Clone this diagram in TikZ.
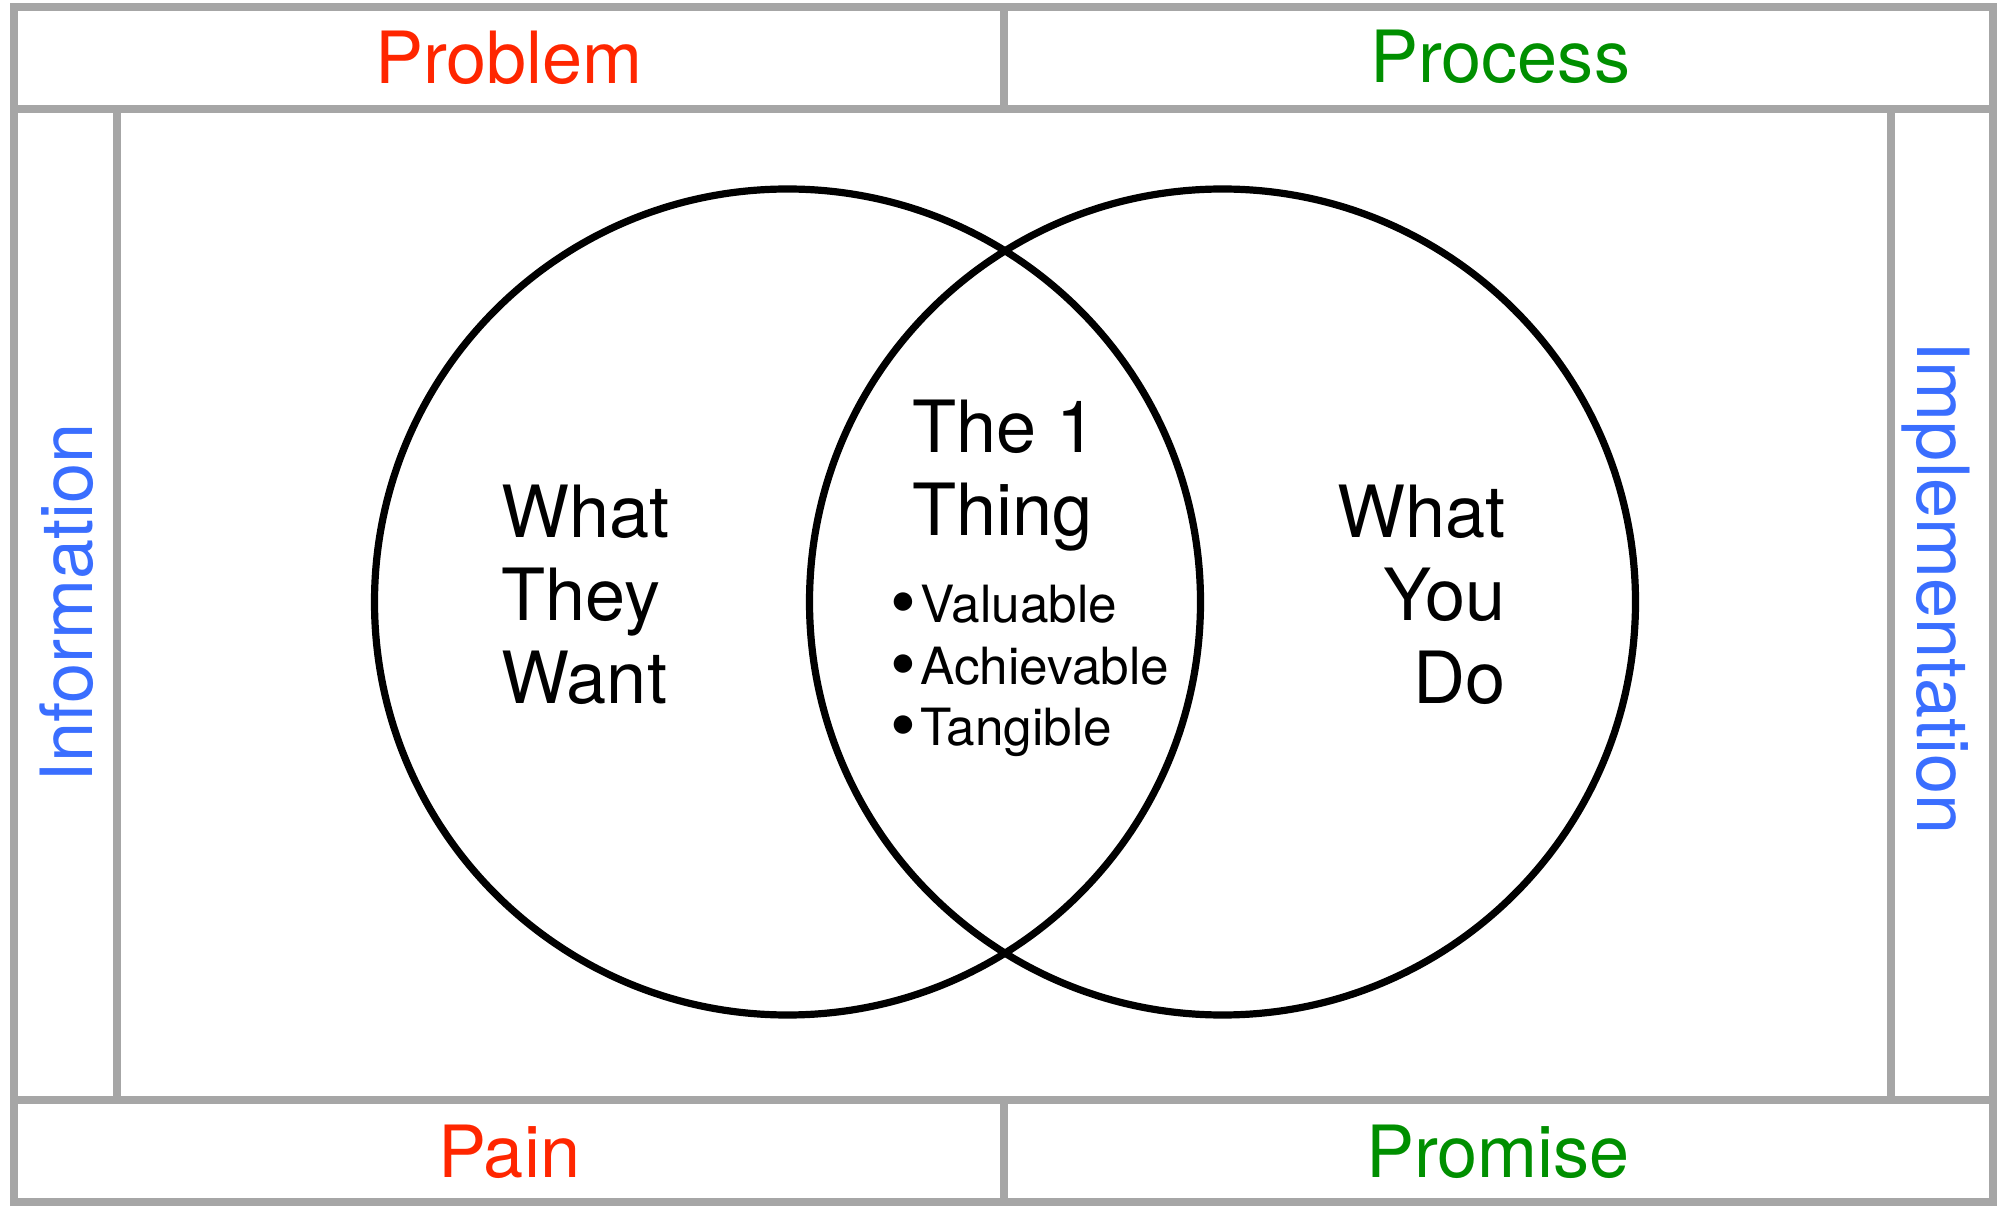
\documentclass[tikz,border=0pt]{standalone}
\usepackage{fontspec}
\setmainfont{TeX Gyre Heros}
\usetikzlibrary{positioning}
\definecolor{framegray}{RGB}{166,166,166}
\definecolor{painred}{RGB}{255,38,0}
\definecolor{gaingreen}{RGB}{0,143,0}
\definecolor{sideblue}{RGB}{58,110,255}
\newcommand{\dotmark}{\smash{\raisebox{-0.05cm}{\fontsize{21}{17.5}\selectfont\textbullet}}\hspace{0.04cm}}

\begin{document}
\begin{tikzpicture}[
    frame/.style={draw=framegray, line width=0.08cm},
    ring/.style={circle, draw=black, line width=0.072cm,
                 minimum size=8.26cm, inner sep=0pt},
    band/.style={font=\fontsize{20.5}{24}\selectfont, inner sep=0pt, anchor=base},
    big/.style={font=\fontsize{20.5}{23.6}\selectfont, inner sep=0pt},
    list/.style={font=\fontsize{14.6}{17.5}\selectfont, inner sep=0pt, align=left}
]
    \useasboundingbox (0,0) rectangle (20.03,12.06);

    % outer frame with the four bands
    \draw[frame] (0.14,0.04) rectangle (19.93,11.99);
    \draw[frame] (0.14,10.97) -- (19.93,10.97);
    \draw[frame] (0.14,1.06) -- (19.93,1.06);
    \draw[frame] (10.04,10.97) -- (10.04,11.99);
    \draw[frame] (10.04,0.04) -- (10.04,1.06);
    \draw[frame] (1.17,1.06) -- (1.17,10.97);
    \draw[frame] (18.91,1.06) -- (18.91,10.97);

    % band labels
    \node[band, text=painred] (problem) at (5.09,11.22) {Problem};
    \node[band, text=gaingreen] (process) at (15.00,11.23) {Process};
    \node[band, text=painred] (pain) at (5.09,0.29) {Pain};
    \node[band, text=gaingreen] (promise) at (14.98,0.29) {Promise};
    \node[band, text=sideblue, rotate=90] (information) at (0.92,6.03) {Information};
    \node[band, text=sideblue, rotate=-90] (implementation) at (19.17,6.18) {Implementation};

    % the two circles
    \node[ring] (want) at (7.875,6.04) {};
    \node[ring] (youdo) at (12.225,6.04) {};

    \node[big, align=left, anchor=north west] (wanttext) at (5.01,7.22) {What\\They\\Want};
    \node[big, align=right, anchor=north east] (dotext) at (15.06,7.22) {What\\You\\Do};
    \node[big, align=left, anchor=north west] (onething) at (9.12,8.07) {The 1\\Thing};
    \node[list, below right=0.33cm and -0.22cm of onething.south west] (traits)
        {\dotmark Valuable\\\dotmark Achievable\\\dotmark Tangible};

\end{tikzpicture}
\end{document}
